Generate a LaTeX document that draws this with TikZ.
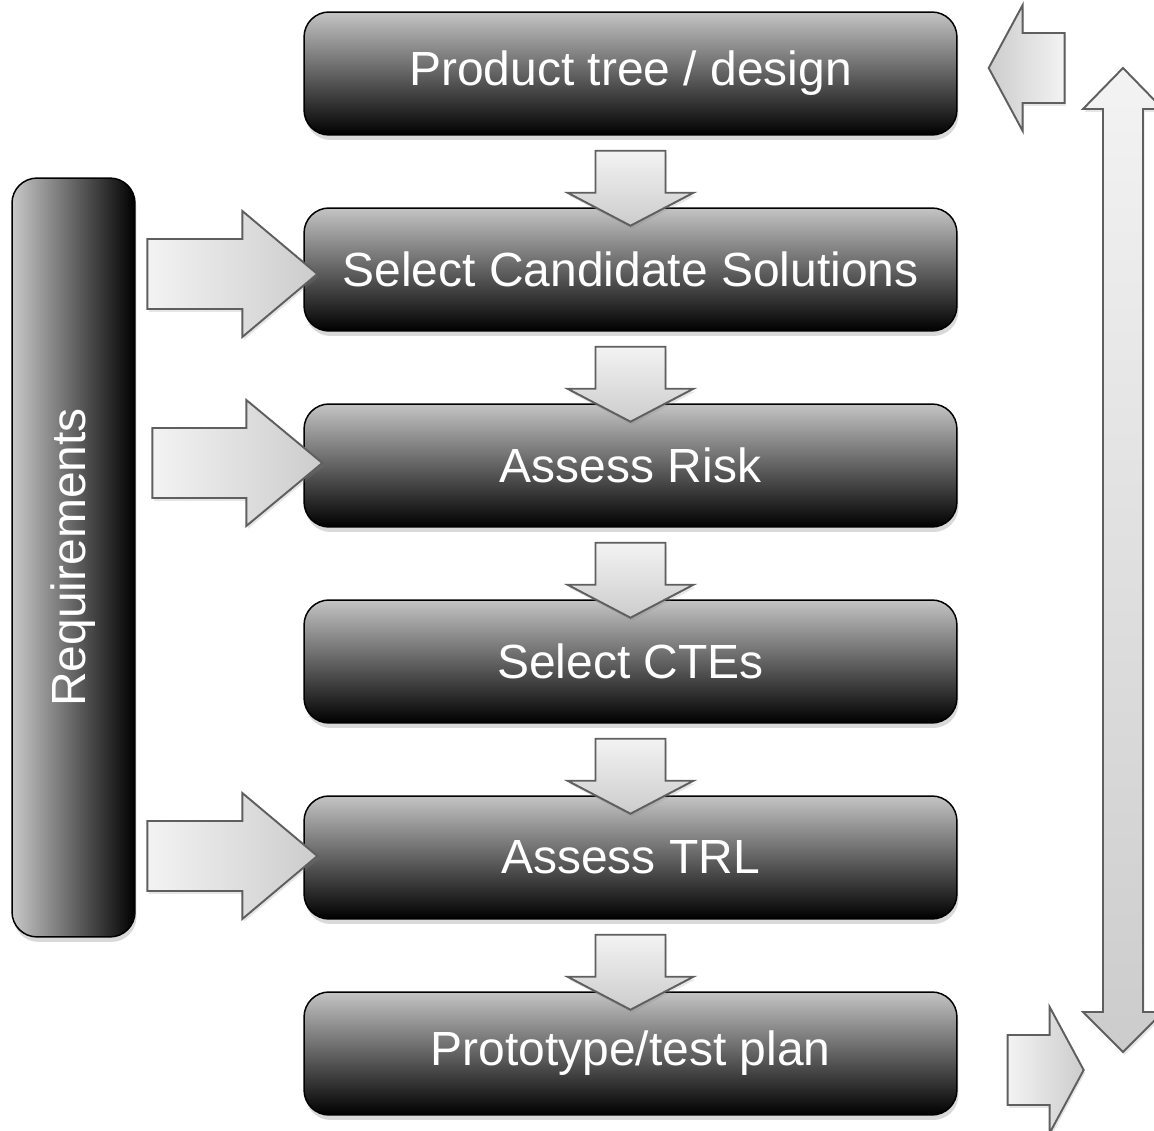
\documentclass[tikz,border=0pt]{standalone}
\usepackage{fontspec}
\setmainfont{Liberation Sans}
\usetikzlibrary{shadows}
\definecolor{boxtop}{RGB}{196,196,196}
\definecolor{reqleft}{RGB}{200,200,200}
\definecolor{arrlight}{RGB}{243,243,243}
\definecolor{arrdark}{RGB}{204,204,204}
\definecolor{arrline}{RGB}{95,95,95}
\tikzset{
  procbox/.style={rounded corners=0.5cm, draw=black, line width=0.85pt,
    top color=boxtop, bottom color=black, minimum width=13.06cm, minimum height=2.46cm,
    inner sep=0pt, text=white, font=\fontsize{27.3}{32}\selectfont,
    drop shadow={opacity=0.3, shadow xshift=0.03cm, shadow yshift=-0.1cm}},
  reqbox/.style={rounded corners=0.5cm, draw=black, line width=0.85pt,
    left color=reqleft, right color=black, minimum width=2.46cm, minimum height=15.18cm,
    inner sep=0pt, text=white, font=\fontsize{27.3}{32}\selectfont,
    drop shadow={opacity=0.3, shadow xshift=0.03cm, shadow yshift=-0.1cm}},
  blockarrow/.style={draw=arrline, line width=1.1pt, line join=miter,
    drop shadow={opacity=0.2, shadow xshift=0.03cm, shadow yshift=-0.06cm}}
}
% vertical down block arrow below a box
\newcommand\downblock[1]{%
  \draw[blockarrow, top color=arrlight, bottom color=arrdark, shift={(#1.south)}]
    (-35,15) -- (35,15) -- (35,57) -- (63,57) -- (0,90) -- (-63,57) -- (-35,57) -- cycle;}
% horizontal block arrow: #1 anchor, #2 dy, #3 tail, #4 head base, #5 tip, #6 left colour, #7 right colour
\newcommand\hblock[7]{%
  \draw[blockarrow, left color=#6, right color=#7, shift={(#1)}]
    (#3,#2-35) -- (#4,#2-35) -- (#4,#2-63) -- (#5,#2) -- (#4,#2+63) -- (#4,#2+35) -- (#3,#2+35) -- cycle;}
\begin{document}
\begin{tikzpicture}[x=0.02cm,y=-0.02cm]
\useasboundingbox (0,0) rectangle (1154,1131);
% process boxes
\node[procbox] (b1) at (630.5,73.5) {Product tree / design};
\node[procbox] (b2) at (630.5,269.5) {Select Candidate Solutions};
\node[procbox] (b3) at (630.5,465.5) {Assess Risk};
\node[procbox] (b4) at (630.5,661.5) {Select CTEs};
\node[procbox] (b5) at (630.5,857.5) {Assess TRL};
\node[procbox] (b6) at (630.5,1053.5) {Prototype/test plan};
% requirements bar
\node[reqbox] (req) at (73.5,557.5) {\rotatebox{90}{Requirements}};
% down arrows between boxes
\downblock{b1}
\downblock{b2}
\downblock{b3}
\downblock{b4}
\downblock{b5}
% arrows from requirements into boxes
\hblock{b2.west}{4.5}{-156}{-61}{14}{arrlight}{arrdark}
\hblock{b3.west}{-2.5}{-151}{-57}{19}{arrlight}{arrdark}
\hblock{b5.west}{-1.5}{-156}{-61}{14}{arrlight}{arrdark}
% feedback arrow into top box
\hblock{b1.east}{-5.5}{107}{65}{31}{arrdark}{arrlight}
% arrow out of bottom box
\hblock{b6.east}{16.5}{50}{92}{126}{arrlight}{arrdark}
% double arrow on the right
\coordinate (dtop) at (1123,68);
\coordinate (dbot) at (1123,1052);
\draw[blockarrow, top color=arrlight, bottom color=arrdark]
  (dtop) -- (1163,109) -- (1143,109) -- (1143,1012) -- (1163,1012) -- (dbot)
  -- (1083,1012) -- (1103,1012) -- (1103,109) -- (1083,109) -- cycle;
\end{tikzpicture}
\end{document}
